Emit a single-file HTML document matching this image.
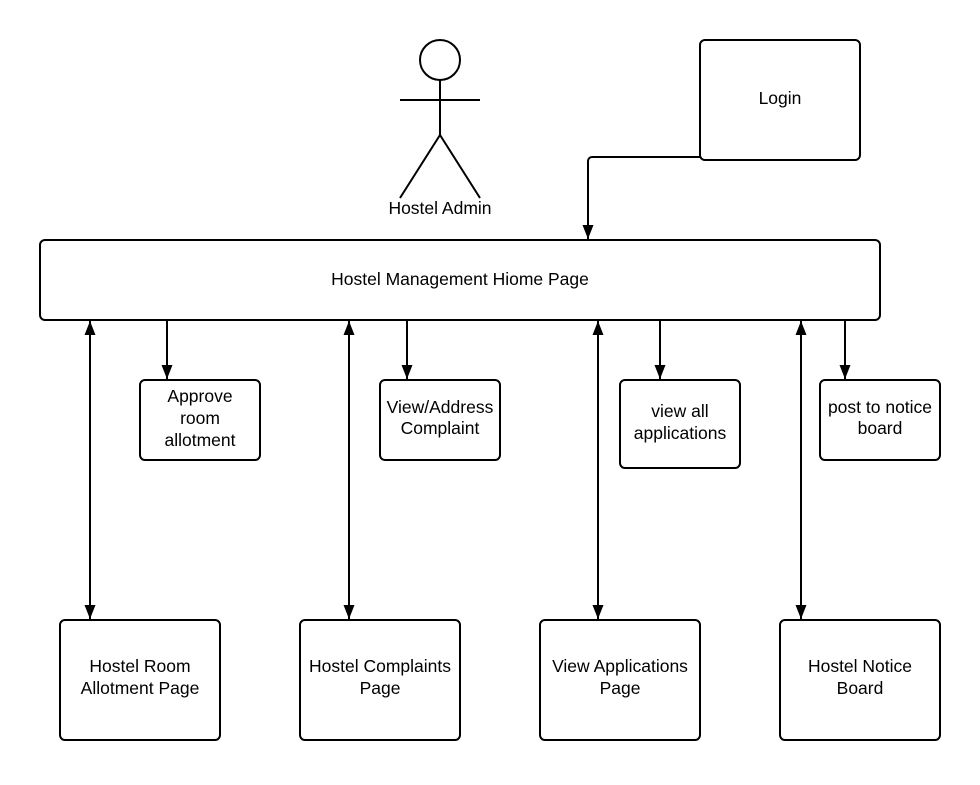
<!DOCTYPE html>
<html><head><style>body{margin:0;background:#fff}</style></head><body>
<svg width="980" height="780" xmlns="http://www.w3.org/2000/svg" font-family="Liberation Sans, sans-serif" font-size="17.5" fill="none">
<defs><marker id="a" viewBox="0 0 14 12" refX="14" refY="6" markerWidth="14" markerHeight="12" markerUnits="userSpaceOnUse" orient="auto-start-reverse"><path d="M0,0.5 L14,6 L0,11.5z" fill="#000"/></marker></defs>
<g stroke="#000" stroke-width="2">
<circle cx="440" cy="60" r="20"/>
<line x1="440" y1="80" x2="440" y2="135"/>
<line x1="400" y1="100" x2="480" y2="100"/>
<path d="M400,198 L440,135 L480,198"/>
<rect x="700" y="40" width="160" height="120" rx="5"/>
<path d="M700,157 H592 a4,4 0 0 0 -4,4 V239" marker-end="url(#a)"/>
<rect x="40" y="240" width="840" height="80" rx="5"/>
<rect x="140" y="380" width="120" height="80" rx="5"/>
<rect x="380" y="380" width="120" height="80" rx="5"/>
<rect x="620" y="380" width="120" height="88" rx="5"/>
<rect x="820" y="380" width="120" height="80" rx="5"/>
<line x1="167" y1="320" x2="167" y2="379" marker-end="url(#a)"/>
<line x1="407" y1="320" x2="407" y2="379" marker-end="url(#a)"/>
<line x1="660" y1="320" x2="660" y2="379" marker-end="url(#a)"/>
<line x1="845" y1="320" x2="845" y2="379" marker-end="url(#a)"/>
<line x1="90" y1="321" x2="90" y2="619" marker-start="url(#a)" marker-end="url(#a)"/>
<line x1="349" y1="321" x2="349" y2="619" marker-start="url(#a)" marker-end="url(#a)"/>
<line x1="598" y1="321" x2="598" y2="619" marker-start="url(#a)" marker-end="url(#a)"/>
<line x1="801" y1="321" x2="801" y2="619" marker-start="url(#a)" marker-end="url(#a)"/>
<rect x="60" y="620" width="160" height="120" rx="5"/>
<rect x="300" y="620" width="160" height="120" rx="5"/>
<rect x="540" y="620" width="160" height="120" rx="5"/>
<rect x="780" y="620" width="160" height="120" rx="5"/>
</g>
<g fill="#000" text-anchor="middle">
<text x="440" y="214">Hostel Admin</text>
<text x="780" y="104">Login</text>
<text x="460" y="285">Hostel Management Hiome Page</text>
<text x="200" y="402">Approve</text><text x="200" y="424">room</text><text x="200" y="446">allotment</text>
<text x="440" y="413">View/Address</text><text x="440" y="434">Complaint</text>
<text x="680" y="417">view all</text><text x="680" y="439">applications</text>
<text x="880" y="413">post to notice</text><text x="880" y="434">board</text>
<text x="140" y="672">Hostel Room</text><text x="140" y="694">Allotment Page</text>
<text x="380" y="672">Hostel Complaints</text><text x="380" y="694">Page</text>
<text x="620" y="672">View Applications</text><text x="620" y="694">Page</text>
<text x="860" y="672">Hostel Notice</text><text x="860" y="694">Board</text>
</g>
</svg>
</body></html>
